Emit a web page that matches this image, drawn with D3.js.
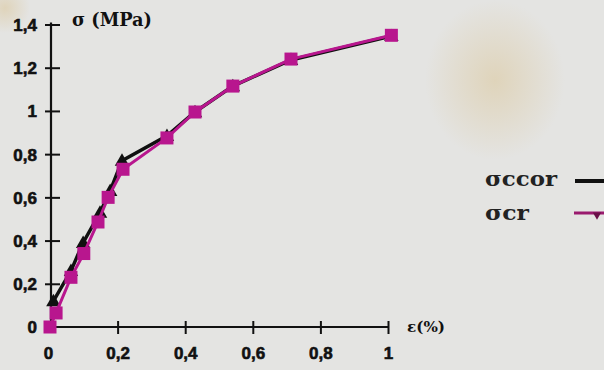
<!DOCTYPE html>
<html><head><meta charset="utf-8">
<script src="https://cdn.jsdelivr.net/npm/d3@7"></script>
<style>html,body{margin:0;padding:0;background:#e4e4e2;}svg{display:block;}</style>
</head><body>
<script>
// Data
const xTicks = [0, 0.2, 0.4, 0.6, 0.8, 1];
const yTicks = [0, 0.2, 0.4, 0.6, 0.8, 1, 1.2, 1.4];
const ccorX = [0.01, 0.062, 0.098, 0.148, 0.178, 0.213, 0.346, 0.429, 0.541, 0.713, 1.01];
const ccorY = [0.12, 0.26, 0.39, 0.53, 0.63, 0.77, 0.885, 0.995, 1.115, 1.236, 1.347];
const crX = [0, 0.018, 0.062, 0.10, 0.142, 0.172, 0.216, 0.346, 0.429, 0.541, 0.713, 1.01];
const crY = [0.0, 0.065, 0.23, 0.34, 0.486, 0.60, 0.73, 0.875, 0.995, 1.115, 1.24, 1.35];
const legendLabels = ["σccor", "σcr"];

const W = 604, H = 370;
const svg = d3.select("body").append("svg").attr("width", W).attr("height", H);

// background stains
const defs = svg.append("defs");
const g1 = defs.append("radialGradient").attr("id", "stain");
g1.append("stop").attr("offset", "0%").attr("stop-color", "#d9c08a").attr("stop-opacity", 0.45);
g1.append("stop").attr("offset", "100%").attr("stop-color", "#d9c08a").attr("stop-opacity", 0);
svg.append("rect").attr("width", W).attr("height", H).attr("fill", "#e4e4e2");
svg.append("ellipse").attr("cx", 495).attr("cy", 80).attr("rx", 70).attr("ry", 80).attr("fill", "url(#stain)");
svg.append("ellipse").attr("cx", 5).attr("cy", 8).attr("rx", 25).attr("ry", 25).attr("fill", "url(#stain)");

const x = d3.scaleLinear().domain([0, 1]).range([50, 388]);
const y = d3.scaleLinear().domain([0, 1.4]).range([327, 24.5]);

const tickFont = "Liberation Sans, Arial, sans-serif";
const slabFont = "DejaVu Serif, serif";

// axes
const xAxis = svg.append("g").attr("transform", `translate(0,${y(0)})`)
  .call(d3.axisBottom(x).tickValues(xTicks).tickSize(0).tickFormat(d => d3.format("")(d).replace(".", ",")));
xAxis.select(".domain").attr("stroke", "#111").attr("stroke-width", 2.2).attr("d", `M${x(0)},0H${x(1)}`);
xAxis.selectAll(".tick line").attr("y1", -6).attr("y2", 7).attr("stroke", "#111").attr("stroke-width", 2);
xAxis.selectAll(".tick").filter(d => d === 0).select("line").remove();
xAxis.selectAll(".tick text").attr("y", 20).attr("dy", "0.71em")
  .attr("font-family", tickFont).attr("font-weight", "bold").attr("font-size", 17).attr("fill", "#111")
  .attr("stroke", "#111").attr("stroke-width", 0.6)
  .attr("dx", d => d === 0 ? -2 : 0);

const yAxis = svg.append("g").attr("transform", `translate(51,0)`)
  .call(d3.axisLeft(y).tickValues(yTicks).tickSize(0).tickFormat(d => d3.format("")(d).replace(".", ",")));
yAxis.select(".domain").attr("stroke", "#111").attr("stroke-width", 2.2).attr("d", `M0,${y(1.4) - 2}V${y(0)}`);
yAxis.selectAll(".tick line").attr("x1", -6).attr("x2", 9).attr("stroke", "#111").attr("stroke-width", 2);
yAxis.selectAll(".tick").filter(d => d === 0).select("line").remove();
yAxis.selectAll(".tick text").attr("x", -14).attr("dy", "0.35em")
  .attr("font-family", tickFont).attr("font-weight", "bold").attr("font-size", 17).attr("fill", "#111")
  .attr("stroke", "#111").attr("stroke-width", 0.6);

svg.append("text").attr("x", 72).attr("y", 26).text("σ (MPa)")
  .attr("font-family", slabFont).attr("font-weight", "bold").attr("font-size", 18)
  .attr("textLength", 80).attr("lengthAdjust", "spacingAndGlyphs").attr("fill", "#111");
svg.append("text").attr("x", 407).attr("y", 332).text("ε(%)")
  .attr("font-family", slabFont).attr("font-weight", "bold").attr("font-size", 14)
  .attr("textLength", 38).attr("lengthAdjust", "spacingAndGlyphs").attr("fill", "#111");

const line = d3.line().x(d => x(d[0])).y(d => y(d[1]));
const ccor = ccorX.map((v, i) => [v, ccorY[i]]);
const cr = crX.map((v, i) => [v, crY[i]]);

const black = "#101010", pink = "#b8168e";
svg.append("path").datum(ccor).attr("d", line).attr("fill", "none").attr("stroke", black).attr("stroke-width", 3.5);
svg.selectAll(".tri").data(ccor).enter().append("path")
  .attr("d", d3.symbol().type(d3.symbolTriangle).size(90))
  .attr("transform", d => `translate(${x(d[0])},${y(d[1]) + 1})`).attr("fill", black);

svg.append("path").datum(cr).attr("d", line).attr("fill", "none").attr("stroke", pink).attr("stroke-width", 3);
svg.selectAll(".sq").data(cr).enter().append("rect")
  .attr("x", d => x(d[0]) - 6.5).attr("y", d => y(d[1]) - 6.5).attr("width", 13).attr("height", 13).attr("fill", pink);

// legend
const lg = svg.append("g");
lg.append("text").attr("x", 485).attr("y", 186).text(legendLabels[0])
  .attr("font-family", slabFont).attr("font-weight", "bold").attr("font-size", 21)
  .attr("textLength", 72).attr("lengthAdjust", "spacingAndGlyphs").attr("fill", "#222");
lg.append("text").attr("x", 485).attr("y", 220).text(legendLabels[1])
  .attr("font-family", slabFont).attr("font-weight", "bold").attr("font-size", 21)
  .attr("textLength", 44).attr("lengthAdjust", "spacingAndGlyphs").attr("fill", "#222");
lg.append("line").attr("x1", 575).attr("x2", 604).attr("y1", 181).attr("y2", 181).attr("stroke", black).attr("stroke-width", 4);
lg.append("line").attr("x1", 574).attr("x2", 604).attr("y1", 213).attr("y2", 213).attr("stroke", "#9a1a6e").attr("stroke-width", 3);
lg.append("path").attr("d", d3.symbol().type(d3.symbolTriangle).size(30)).attr("transform", "translate(597,215) rotate(180)").attr("fill", "#6a1048");
</script>
</body></html>
